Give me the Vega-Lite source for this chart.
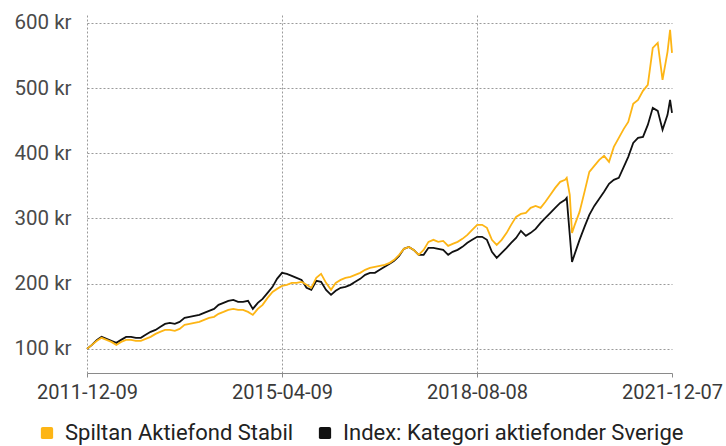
{
  "$schema": "https://vega.github.io/schema/vega-lite/v6.json",
  "width": 585,
  "height": 358,
  "autosize": "none",
  "padding": {"left": 87, "top": 15, "right": 54, "bottom": 73},
  "background": "white",
  "config": {
    "view": {"stroke": null},
    "font": "Roboto"
  },
  "data": {
    "values": [
      {"date":"2011-12-09","series":"Index: Kategori aktiefonder Sverige","value":100},
      {"date":"2012-01-09","series":"Index: Kategori aktiefonder Sverige","value":106.1},
      {"date":"2012-02-09","series":"Index: Kategori aktiefonder Sverige","value":113.8},
      {"date":"2012-03-09","series":"Index: Kategori aktiefonder Sverige","value":118.4},
      {"date":"2012-04-09","series":"Index: Kategori aktiefonder Sverige","value":115.3},
      {"date":"2012-05-09","series":"Index: Kategori aktiefonder Sverige","value":112.3},
      {"date":"2012-06-09","series":"Index: Kategori aktiefonder Sverige","value":109.2},
      {"date":"2012-07-09","series":"Index: Kategori aktiefonder Sverige","value":113.8},
      {"date":"2012-08-09","series":"Index: Kategori aktiefonder Sverige","value":118.4},
      {"date":"2012-09-09","series":"Index: Kategori aktiefonder Sverige","value":118.4},
      {"date":"2012-10-09","series":"Index: Kategori aktiefonder Sverige","value":116.9},
      {"date":"2012-11-09","series":"Index: Kategori aktiefonder Sverige","value":116.9},
      {"date":"2012-12-09","series":"Index: Kategori aktiefonder Sverige","value":121.5},
      {"date":"2013-01-09","series":"Index: Kategori aktiefonder Sverige","value":126.1},
      {"date":"2013-02-09","series":"Index: Kategori aktiefonder Sverige","value":129.1},
      {"date":"2013-03-09","series":"Index: Kategori aktiefonder Sverige","value":133.7},
      {"date":"2013-04-09","series":"Index: Kategori aktiefonder Sverige","value":138.3},
      {"date":"2013-05-09","series":"Index: Kategori aktiefonder Sverige","value":139.9},
      {"date":"2013-06-09","series":"Index: Kategori aktiefonder Sverige","value":138.3},
      {"date":"2013-07-09","series":"Index: Kategori aktiefonder Sverige","value":141.4},
      {"date":"2013-08-09","series":"Index: Kategori aktiefonder Sverige","value":147.5},
      {"date":"2013-09-09","series":"Index: Kategori aktiefonder Sverige","value":149.1},
      {"date":"2013-10-09","series":"Index: Kategori aktiefonder Sverige","value":150.6},
      {"date":"2013-11-09","series":"Index: Kategori aktiefonder Sverige","value":152.1},
      {"date":"2013-12-09","series":"Index: Kategori aktiefonder Sverige","value":155.2},
      {"date":"2014-01-09","series":"Index: Kategori aktiefonder Sverige","value":158.3},
      {"date":"2014-02-09","series":"Index: Kategori aktiefonder Sverige","value":161.3},
      {"date":"2014-03-09","series":"Index: Kategori aktiefonder Sverige","value":167.5},
      {"date":"2014-04-09","series":"Index: Kategori aktiefonder Sverige","value":170.6},
      {"date":"2014-05-09","series":"Index: Kategori aktiefonder Sverige","value":173.6},
      {"date":"2014-06-09","series":"Index: Kategori aktiefonder Sverige","value":175.2},
      {"date":"2014-07-09","series":"Index: Kategori aktiefonder Sverige","value":172.1},
      {"date":"2014-08-09","series":"Index: Kategori aktiefonder Sverige","value":172.1},
      {"date":"2014-09-09","series":"Index: Kategori aktiefonder Sverige","value":173.6},
      {"date":"2014-10-09","series":"Index: Kategori aktiefonder Sverige","value":161.3},
      {"date":"2014-11-09","series":"Index: Kategori aktiefonder Sverige","value":170.6},
      {"date":"2014-12-09","series":"Index: Kategori aktiefonder Sverige","value":176.7},
      {"date":"2015-01-09","series":"Index: Kategori aktiefonder Sverige","value":185.9},
      {"date":"2015-02-09","series":"Index: Kategori aktiefonder Sverige","value":195.1},
      {"date":"2015-03-09","series":"Index: Kategori aktiefonder Sverige","value":207.4},
      {"date":"2015-04-09","series":"Index: Kategori aktiefonder Sverige","value":216.6},
      {"date":"2015-05-09","series":"Index: Kategori aktiefonder Sverige","value":215.0},
      {"date":"2015-06-09","series":"Index: Kategori aktiefonder Sverige","value":212.0},
      {"date":"2015-07-09","series":"Index: Kategori aktiefonder Sverige","value":208.9},
      {"date":"2015-08-09","series":"Index: Kategori aktiefonder Sverige","value":205.8},
      {"date":"2015-09-09","series":"Index: Kategori aktiefonder Sverige","value":193.6},
      {"date":"2015-10-09","series":"Index: Kategori aktiefonder Sverige","value":190.5},
      {"date":"2015-11-09","series":"Index: Kategori aktiefonder Sverige","value":204.3},
      {"date":"2015-12-09","series":"Index: Kategori aktiefonder Sverige","value":202.8},
      {"date":"2016-01-09","series":"Index: Kategori aktiefonder Sverige","value":190.5},
      {"date":"2016-02-09","series":"Index: Kategori aktiefonder Sverige","value":182.8},
      {"date":"2016-03-09","series":"Index: Kategori aktiefonder Sverige","value":189.0},
      {"date":"2016-04-09","series":"Index: Kategori aktiefonder Sverige","value":193.6},
      {"date":"2016-05-09","series":"Index: Kategori aktiefonder Sverige","value":195.1},
      {"date":"2016-06-09","series":"Index: Kategori aktiefonder Sverige","value":198.2},
      {"date":"2016-07-09","series":"Index: Kategori aktiefonder Sverige","value":202.8},
      {"date":"2016-08-09","series":"Index: Kategori aktiefonder Sverige","value":207.4},
      {"date":"2016-09-09","series":"Index: Kategori aktiefonder Sverige","value":213.5},
      {"date":"2016-10-09","series":"Index: Kategori aktiefonder Sverige","value":216.6},
      {"date":"2016-11-09","series":"Index: Kategori aktiefonder Sverige","value":216.6},
      {"date":"2016-12-09","series":"Index: Kategori aktiefonder Sverige","value":221.2},
      {"date":"2017-01-09","series":"Index: Kategori aktiefonder Sverige","value":225.8},
      {"date":"2017-02-09","series":"Index: Kategori aktiefonder Sverige","value":230.4},
      {"date":"2017-03-09","series":"Index: Kategori aktiefonder Sverige","value":235.0},
      {"date":"2017-04-09","series":"Index: Kategori aktiefonder Sverige","value":242.6},
      {"date":"2017-05-09","series":"Index: Kategori aktiefonder Sverige","value":253.4},
      {"date":"2017-06-09","series":"Index: Kategori aktiefonder Sverige","value":256.4},
      {"date":"2017-07-09","series":"Index: Kategori aktiefonder Sverige","value":251.8},
      {"date":"2017-08-09","series":"Index: Kategori aktiefonder Sverige","value":244.2},
      {"date":"2017-09-09","series":"Index: Kategori aktiefonder Sverige","value":244.2},
      {"date":"2017-10-09","series":"Index: Kategori aktiefonder Sverige","value":254.9},
      {"date":"2017-11-09","series":"Index: Kategori aktiefonder Sverige","value":254.9},
      {"date":"2017-12-09","series":"Index: Kategori aktiefonder Sverige","value":253.4},
      {"date":"2018-01-09","series":"Index: Kategori aktiefonder Sverige","value":251.8},
      {"date":"2018-02-09","series":"Index: Kategori aktiefonder Sverige","value":244.2},
      {"date":"2018-03-09","series":"Index: Kategori aktiefonder Sverige","value":248.8},
      {"date":"2018-04-09","series":"Index: Kategori aktiefonder Sverige","value":251.8},
      {"date":"2018-05-09","series":"Index: Kategori aktiefonder Sverige","value":256.4},
      {"date":"2018-06-09","series":"Index: Kategori aktiefonder Sverige","value":262.6},
      {"date":"2018-07-09","series":"Index: Kategori aktiefonder Sverige","value":267.2},
      {"date":"2018-08-09","series":"Index: Kategori aktiefonder Sverige","value":271.8},
      {"date":"2018-09-09","series":"Index: Kategori aktiefonder Sverige","value":271.8},
      {"date":"2018-10-09","series":"Index: Kategori aktiefonder Sverige","value":267.2},
      {"date":"2018-11-09","series":"Index: Kategori aktiefonder Sverige","value":248.8},
      {"date":"2018-12-09","series":"Index: Kategori aktiefonder Sverige","value":239.6},
      {"date":"2019-01-09","series":"Index: Kategori aktiefonder Sverige","value":247.2},
      {"date":"2019-02-09","series":"Index: Kategori aktiefonder Sverige","value":254.9},
      {"date":"2019-03-09","series":"Index: Kategori aktiefonder Sverige","value":262.6},
      {"date":"2019-04-09","series":"Index: Kategori aktiefonder Sverige","value":270.2},
      {"date":"2019-05-09","series":"Index: Kategori aktiefonder Sverige","value":281.0},
      {"date":"2019-06-09","series":"Index: Kategori aktiefonder Sverige","value":273.3},
      {"date":"2019-07-09","series":"Index: Kategori aktiefonder Sverige","value":277.9},
      {"date":"2019-08-09","series":"Index: Kategori aktiefonder Sverige","value":284.0},
      {"date":"2019-09-09","series":"Index: Kategori aktiefonder Sverige","value":293.2},
      {"date":"2019-10-09","series":"Index: Kategori aktiefonder Sverige","value":300.9},
      {"date":"2019-11-09","series":"Index: Kategori aktiefonder Sverige","value":308.6},
      {"date":"2019-12-09","series":"Index: Kategori aktiefonder Sverige","value":316.3},
      {"date":"2020-01-09","series":"Index: Kategori aktiefonder Sverige","value":323.9},
      {"date":"2020-02-09","series":"Index: Kategori aktiefonder Sverige","value":328.5},
      {"date":"2020-02-19","series":"Index: Kategori aktiefonder Sverige","value":331.6},
      {"date":"2020-03-09","series":"Index: Kategori aktiefonder Sverige","value":274.8},
      {"date":"2020-03-23","series":"Index: Kategori aktiefonder Sverige","value":233.4},
      {"date":"2020-04-09","series":"Index: Kategori aktiefonder Sverige","value":245.7},
      {"date":"2020-05-09","series":"Index: Kategori aktiefonder Sverige","value":267.2},
      {"date":"2020-06-09","series":"Index: Kategori aktiefonder Sverige","value":287.1},
      {"date":"2020-07-09","series":"Index: Kategori aktiefonder Sverige","value":305.5},
      {"date":"2020-08-09","series":"Index: Kategori aktiefonder Sverige","value":319.3},
      {"date":"2020-09-09","series":"Index: Kategori aktiefonder Sverige","value":330.1},
      {"date":"2020-10-09","series":"Index: Kategori aktiefonder Sverige","value":340.8},
      {"date":"2020-11-09","series":"Index: Kategori aktiefonder Sverige","value":353.1},
      {"date":"2020-12-09","series":"Index: Kategori aktiefonder Sverige","value":359.2},
      {"date":"2021-01-09","series":"Index: Kategori aktiefonder Sverige","value":362.3},
      {"date":"2021-02-09","series":"Index: Kategori aktiefonder Sverige","value":379.1},
      {"date":"2021-03-09","series":"Index: Kategori aktiefonder Sverige","value":394.5},
      {"date":"2021-04-09","series":"Index: Kategori aktiefonder Sverige","value":415.9},
      {"date":"2021-05-09","series":"Index: Kategori aktiefonder Sverige","value":423.6},
      {"date":"2021-06-09","series":"Index: Kategori aktiefonder Sverige","value":425.1},
      {"date":"2021-07-09","series":"Index: Kategori aktiefonder Sverige","value":443.5},
      {"date":"2021-08-09","series":"Index: Kategori aktiefonder Sverige","value":469.6},
      {"date":"2021-09-09","series":"Index: Kategori aktiefonder Sverige","value":465.0},
      {"date":"2021-10-09","series":"Index: Kategori aktiefonder Sverige","value":435.9},
      {"date":"2021-11-09","series":"Index: Kategori aktiefonder Sverige","value":458.9},
      {"date":"2021-11-25","series":"Index: Kategori aktiefonder Sverige","value":481.9},
      {"date":"2021-12-07","series":"Index: Kategori aktiefonder Sverige","value":462.0},

      {"date":"2011-12-09","series":"Spiltan Aktiefond Stabil","value":100},
      {"date":"2012-01-09","series":"Spiltan Aktiefond Stabil","value":106.1},
      {"date":"2012-02-09","series":"Spiltan Aktiefond Stabil","value":112.3},
      {"date":"2012-03-09","series":"Spiltan Aktiefond Stabil","value":116.9},
      {"date":"2012-04-09","series":"Spiltan Aktiefond Stabil","value":113.8},
      {"date":"2012-05-09","series":"Spiltan Aktiefond Stabil","value":110.7},
      {"date":"2012-06-09","series":"Spiltan Aktiefond Stabil","value":106.1},
      {"date":"2012-07-09","series":"Spiltan Aktiefond Stabil","value":110.7},
      {"date":"2012-08-09","series":"Spiltan Aktiefond Stabil","value":113.8},
      {"date":"2012-09-09","series":"Spiltan Aktiefond Stabil","value":113.8},
      {"date":"2012-10-09","series":"Spiltan Aktiefond Stabil","value":112.3},
      {"date":"2012-11-09","series":"Spiltan Aktiefond Stabil","value":112.3},
      {"date":"2012-12-09","series":"Spiltan Aktiefond Stabil","value":115.3},
      {"date":"2013-01-09","series":"Spiltan Aktiefond Stabil","value":118.4},
      {"date":"2013-02-09","series":"Spiltan Aktiefond Stabil","value":123.0},
      {"date":"2013-03-09","series":"Spiltan Aktiefond Stabil","value":126.1},
      {"date":"2013-04-09","series":"Spiltan Aktiefond Stabil","value":129.1},
      {"date":"2013-05-09","series":"Spiltan Aktiefond Stabil","value":129.1},
      {"date":"2013-06-09","series":"Spiltan Aktiefond Stabil","value":127.6},
      {"date":"2013-07-09","series":"Spiltan Aktiefond Stabil","value":130.7},
      {"date":"2013-08-09","series":"Spiltan Aktiefond Stabil","value":136.8},
      {"date":"2013-09-09","series":"Spiltan Aktiefond Stabil","value":138.3},
      {"date":"2013-10-09","series":"Spiltan Aktiefond Stabil","value":139.9},
      {"date":"2013-11-09","series":"Spiltan Aktiefond Stabil","value":141.4},
      {"date":"2013-12-09","series":"Spiltan Aktiefond Stabil","value":144.5},
      {"date":"2014-01-09","series":"Spiltan Aktiefond Stabil","value":147.5},
      {"date":"2014-02-09","series":"Spiltan Aktiefond Stabil","value":149.1},
      {"date":"2014-03-09","series":"Spiltan Aktiefond Stabil","value":153.7},
      {"date":"2014-04-09","series":"Spiltan Aktiefond Stabil","value":156.7},
      {"date":"2014-05-09","series":"Spiltan Aktiefond Stabil","value":159.8},
      {"date":"2014-06-09","series":"Spiltan Aktiefond Stabil","value":161.3},
      {"date":"2014-07-09","series":"Spiltan Aktiefond Stabil","value":159.8},
      {"date":"2014-08-09","series":"Spiltan Aktiefond Stabil","value":159.8},
      {"date":"2014-09-09","series":"Spiltan Aktiefond Stabil","value":156.7},
      {"date":"2014-10-09","series":"Spiltan Aktiefond Stabil","value":152.1},
      {"date":"2014-11-09","series":"Spiltan Aktiefond Stabil","value":161.3},
      {"date":"2014-12-09","series":"Spiltan Aktiefond Stabil","value":167.5},
      {"date":"2015-01-09","series":"Spiltan Aktiefond Stabil","value":178.2},
      {"date":"2015-02-09","series":"Spiltan Aktiefond Stabil","value":187.4},
      {"date":"2015-03-09","series":"Spiltan Aktiefond Stabil","value":192.0},
      {"date":"2015-04-09","series":"Spiltan Aktiefond Stabil","value":196.6},
      {"date":"2015-05-09","series":"Spiltan Aktiefond Stabil","value":198.2},
      {"date":"2015-06-09","series":"Spiltan Aktiefond Stabil","value":201.2},
      {"date":"2015-07-09","series":"Spiltan Aktiefond Stabil","value":201.2},
      {"date":"2015-08-09","series":"Spiltan Aktiefond Stabil","value":202.8},
      {"date":"2015-09-09","series":"Spiltan Aktiefond Stabil","value":198.2},
      {"date":"2015-10-09","series":"Spiltan Aktiefond Stabil","value":193.6},
      {"date":"2015-11-09","series":"Spiltan Aktiefond Stabil","value":208.9},
      {"date":"2015-12-09","series":"Spiltan Aktiefond Stabil","value":215.0},
      {"date":"2016-01-09","series":"Spiltan Aktiefond Stabil","value":201.2},
      {"date":"2016-02-09","series":"Spiltan Aktiefond Stabil","value":190.5},
      {"date":"2016-03-09","series":"Spiltan Aktiefond Stabil","value":201.2},
      {"date":"2016-04-09","series":"Spiltan Aktiefond Stabil","value":205.8},
      {"date":"2016-05-09","series":"Spiltan Aktiefond Stabil","value":208.9},
      {"date":"2016-06-09","series":"Spiltan Aktiefond Stabil","value":210.4},
      {"date":"2016-07-09","series":"Spiltan Aktiefond Stabil","value":213.5},
      {"date":"2016-08-09","series":"Spiltan Aktiefond Stabil","value":216.6},
      {"date":"2016-09-09","series":"Spiltan Aktiefond Stabil","value":221.2},
      {"date":"2016-10-09","series":"Spiltan Aktiefond Stabil","value":224.2},
      {"date":"2016-11-09","series":"Spiltan Aktiefond Stabil","value":225.8},
      {"date":"2016-12-09","series":"Spiltan Aktiefond Stabil","value":227.3},
      {"date":"2017-01-09","series":"Spiltan Aktiefond Stabil","value":228.8},
      {"date":"2017-02-09","series":"Spiltan Aktiefond Stabil","value":231.9},
      {"date":"2017-03-09","series":"Spiltan Aktiefond Stabil","value":236.5},
      {"date":"2017-04-09","series":"Spiltan Aktiefond Stabil","value":244.2},
      {"date":"2017-05-09","series":"Spiltan Aktiefond Stabil","value":253.4},
      {"date":"2017-06-09","series":"Spiltan Aktiefond Stabil","value":256.4},
      {"date":"2017-07-09","series":"Spiltan Aktiefond Stabil","value":251.8},
      {"date":"2017-08-09","series":"Spiltan Aktiefond Stabil","value":244.2},
      {"date":"2017-09-09","series":"Spiltan Aktiefond Stabil","value":251.8},
      {"date":"2017-10-09","series":"Spiltan Aktiefond Stabil","value":264.1},
      {"date":"2017-11-09","series":"Spiltan Aktiefond Stabil","value":267.2},
      {"date":"2017-12-09","series":"Spiltan Aktiefond Stabil","value":264.1},
      {"date":"2018-01-09","series":"Spiltan Aktiefond Stabil","value":265.6},
      {"date":"2018-02-09","series":"Spiltan Aktiefond Stabil","value":258.0},
      {"date":"2018-03-09","series":"Spiltan Aktiefond Stabil","value":261.0},
      {"date":"2018-04-09","series":"Spiltan Aktiefond Stabil","value":264.1},
      {"date":"2018-05-09","series":"Spiltan Aktiefond Stabil","value":268.7},
      {"date":"2018-06-09","series":"Spiltan Aktiefond Stabil","value":274.8},
      {"date":"2018-07-09","series":"Spiltan Aktiefond Stabil","value":282.5},
      {"date":"2018-08-09","series":"Spiltan Aktiefond Stabil","value":290.2},
      {"date":"2018-09-09","series":"Spiltan Aktiefond Stabil","value":290.2},
      {"date":"2018-10-09","series":"Spiltan Aktiefond Stabil","value":285.6},
      {"date":"2018-11-09","series":"Spiltan Aktiefond Stabil","value":267.2},
      {"date":"2018-12-09","series":"Spiltan Aktiefond Stabil","value":259.5},
      {"date":"2019-01-09","series":"Spiltan Aktiefond Stabil","value":267.2},
      {"date":"2019-02-09","series":"Spiltan Aktiefond Stabil","value":277.9},
      {"date":"2019-03-09","series":"Spiltan Aktiefond Stabil","value":290.2},
      {"date":"2019-04-09","series":"Spiltan Aktiefond Stabil","value":302.4},
      {"date":"2019-05-09","series":"Spiltan Aktiefond Stabil","value":307.0},
      {"date":"2019-06-09","series":"Spiltan Aktiefond Stabil","value":308.6},
      {"date":"2019-07-09","series":"Spiltan Aktiefond Stabil","value":316.3},
      {"date":"2019-08-09","series":"Spiltan Aktiefond Stabil","value":319.3},
      {"date":"2019-09-09","series":"Spiltan Aktiefond Stabil","value":316.3},
      {"date":"2019-10-09","series":"Spiltan Aktiefond Stabil","value":325.5},
      {"date":"2019-11-09","series":"Spiltan Aktiefond Stabil","value":336.2},
      {"date":"2019-12-09","series":"Spiltan Aktiefond Stabil","value":346.9},
      {"date":"2020-01-09","series":"Spiltan Aktiefond Stabil","value":356.1},
      {"date":"2020-02-09","series":"Spiltan Aktiefond Stabil","value":359.2},
      {"date":"2020-02-19","series":"Spiltan Aktiefond Stabil","value":362.3},
      {"date":"2020-03-09","series":"Spiltan Aktiefond Stabil","value":336.2},
      {"date":"2020-03-23","series":"Spiltan Aktiefond Stabil","value":277.9},
      {"date":"2020-04-09","series":"Spiltan Aktiefond Stabil","value":290.2},
      {"date":"2020-05-09","series":"Spiltan Aktiefond Stabil","value":310.1},
      {"date":"2020-06-09","series":"Spiltan Aktiefond Stabil","value":340.8},
      {"date":"2020-07-09","series":"Spiltan Aktiefond Stabil","value":371.5},
      {"date":"2020-08-09","series":"Spiltan Aktiefond Stabil","value":380.7},
      {"date":"2020-09-09","series":"Spiltan Aktiefond Stabil","value":389.9},
      {"date":"2020-10-09","series":"Spiltan Aktiefond Stabil","value":396.0},
      {"date":"2020-11-09","series":"Spiltan Aktiefond Stabil","value":386.8},
      {"date":"2020-12-09","series":"Spiltan Aktiefond Stabil","value":409.8},
      {"date":"2021-01-09","series":"Spiltan Aktiefond Stabil","value":423.6},
      {"date":"2021-02-09","series":"Spiltan Aktiefond Stabil","value":437.4},
      {"date":"2021-03-09","series":"Spiltan Aktiefond Stabil","value":448.1},
      {"date":"2021-04-09","series":"Spiltan Aktiefond Stabil","value":475.8},
      {"date":"2021-05-09","series":"Spiltan Aktiefond Stabil","value":481.9},
      {"date":"2021-06-09","series":"Spiltan Aktiefond Stabil","value":495.7},
      {"date":"2021-07-09","series":"Spiltan Aktiefond Stabil","value":504.9},
      {"date":"2021-08-09","series":"Spiltan Aktiefond Stabil","value":561.6},
      {"date":"2021-09-09","series":"Spiltan Aktiefond Stabil","value":569.3},
      {"date":"2021-10-09","series":"Spiltan Aktiefond Stabil","value":512.6},
      {"date":"2021-11-09","series":"Spiltan Aktiefond Stabil","value":555.5},
      {"date":"2021-11-25","series":"Spiltan Aktiefond Stabil","value":589.3},
      {"date":"2021-12-07","series":"Spiltan Aktiefond Stabil","value":554.0}
    ]
  },
  "mark": {"type": "line", "strokeWidth": 1.8, "interpolate": "linear"},
  "encoding": {
    "x": {
      "field": "date",
      "type": "temporal",
      "title": null,
      "scale": {
        "type": "utc",
        "domain": [
          {"year": 2011, "month": 12, "date": 9, "utc": true},
          {"year": 2021, "month": 12, "date": 7, "utc": true}
        ],
        "nice": false
      },
      "axis": {
        "values": [
          {"year": 2011, "month": 12, "date": 9, "utc": true},
          {"year": 2015, "month": 4, "date": 9, "utc": true},
          {"year": 2018, "month": 8, "date": 8, "utc": true},
          {"year": 2021, "month": 12, "date": 7, "utc": true}
        ],
        "labelExpr": "utcFormat(datum.value, '%Y-%m-%d')",
        "labelFontSize": 20,
        "labelColor": "#3a3a3a",
        "labelPadding": 5,
        "labelFlush": false,
        "labelOverlap": false,
        "domainColor": "#8a8a8a",
        "domainWidth": 1.2,
        "tickColor": "#8a8a8a",
        "tickSize": 4,
        "grid": true,
        "gridColor": "#9a9a9a",
        "gridDash": [2, 2],
        "gridWidth": 1,
        "gridOpacity": {"condition": {"test": "datum.value > 1609459200000", "value": 0}, "value": 1}
      }
    },
    "y": {
      "field": "value",
      "type": "quantitative",
      "title": null,
      "scale": {"domain": [63, 612], "nice": false, "zero": false},
      "axis": {
        "values": [100, 200, 300, 400, 500, 600],
        "labelExpr": "datum.value + ' kr'",
        "labelFontSize": 20.5,
        "labelColor": "#4a4a4a",
        "labelPadding": 16,
        "ticks": false,
        "domain": false,
        "grid": true,
        "gridColor": "#9a9a9a",
        "gridDash": [2, 2],
        "gridWidth": 1
      }
    },
    "color": {
      "field": "series",
      "type": "nominal",
      "scale": {
        "domain": ["Spiltan Aktiefond Stabil", "Index: Kategori aktiefonder Sverige"],
        "range": ["#FDB515", "#111111"]
      },
      "legend": {
        "title": null,
        "orient": "none",
        "direction": "horizontal",
        "legendX": -51,
        "legendY": 407,
        "symbolType": "M-1,-0.7Q-1,-1,-0.7,-1L0.7,-1Q1,-1,1,-0.7L1,0.7Q1,1,0.7,1L-0.7,1Q-1,1,-1,0.7Z",
        "symbolSize": 150,
        "symbolStrokeWidth": 0,
        "symbolOpacity": 1,
        "labelFontSize": 22,
        "labelColor": "#222222",
        "labelOffset": 7,
        "labelLimit": 500,
        "columnPadding": 20,
        "encode": {
          "symbols": {"update": {"fill": {"scale": "color", "field": "value"}, "strokeWidth": {"value": 0}}}
        }
      }
    },
    "order": {"field": "series", "sort": "ascending"}
  }
}
